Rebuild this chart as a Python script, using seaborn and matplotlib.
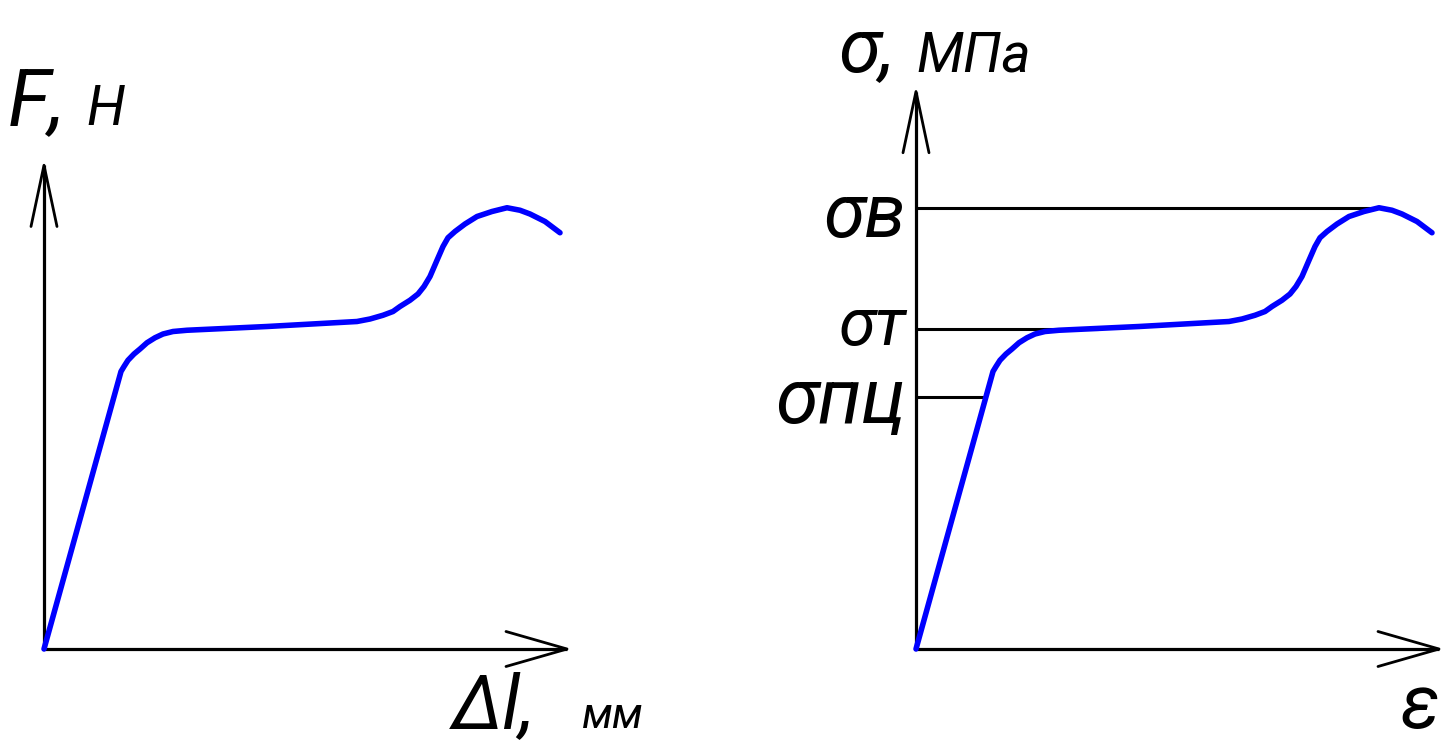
import numpy as np
import pandas as pd
import matplotlib
matplotlib.use('Agg')
import matplotlib.pyplot as plt
import seaborn as sns

# Tension diagram: relative strain (%) and stress (MPa)
strain = [0, 3.85, 4.0, 4.2, 4.5, 4.8, 5.15, 5.55, 5.95, 6.45, 7.15,
          11.15, 15.65, 16.3, 16.95, 17.45, 17.8, 18.3, 18.7, 19.0, 19.3,
          19.65, 19.95, 20.2, 20.55, 21.05, 21.65, 22.4, 23.15, 23.8, 24.3,
          25.05, 25.8]
stress = [0, 222, 226, 231, 236, 240, 245, 249, 252, 254, 255,
          258, 262, 264, 267, 270, 274, 279, 284, 290, 298,
          311, 322, 329, 334, 340, 346, 350, 353, 351, 348,
          342, 333]

# Characteristic stresses (right diagram)
level_names = ['σв', 'σт', 'σпц']
level_values = [353, 256, 202]
level_ends = [23.15, 9.1, 3.52]

# Axis extents
x_axis_len = 26.15
y_axis_len_left = 387
y_axis_len_right = 446

sns.set_style('white')
plt.rcParams['font.family'] = ['Roboto', 'DejaVu Sans']

curve = pd.DataFrame({'strain': strain, 'stress': stress})

W, H = 1449, 755
fig = plt.figure(figsize=(W / 100, H / 100), dpi=100)

# 1 strain unit = 20 px, 1 stress unit = 1.25 px
ax1 = fig.add_axes([0, 0, 700 / W, 1])
ax1.set_xlim(-2.2, 32.8)
ax1.set_ylim(-84.8, 519.2)
ax2 = fig.add_axes([720 / W, 0, 729 / W, 1])
ax2.set_xlim(-9.8, 26.65)
ax2.set_ylim(-84.8, 519.2)


def draw_axes(ax, ylen):
    ax.set_axis_off()
    lw = 2.3
    ax.plot([0, x_axis_len], [0, 0], color='black', lw=lw, solid_capstyle='butt')
    ax.plot([0, 0], [0, ylen], color='black', lw=lw, solid_capstyle='butt')
    # open arrowheads
    al_x, aw_x = 3.05, 0.65
    al_y, aw_y = 49, 14
    ax.plot([x_axis_len - al_x, x_axis_len, x_axis_len - al_x], [aw_y, 0, -aw_y],
            color='black', lw=2.0)
    ax.plot([-aw_x, 0, aw_x], [ylen - al_y, ylen, ylen - al_y], color='black', lw=2.0)


draw_axes(ax1, y_axis_len_left)
draw_axes(ax2, y_axis_len_right)

for name, val, end in zip(level_names, level_values, level_ends):
    ax2.plot([0, end], [val, val], color='black', lw=2.2)

for ax in (ax1, ax2):
    sns.lineplot(data=curve, x='strain', y='stress', sort=False, estimator=None,
                 color='#0000FF', lw=4.0, ax=ax, solid_capstyle='round',
                 solid_joinstyle='round')
    ax.set_axis_off()


def ftext(x, y, s, size, ha='left'):
    fig.text(x / W, 1 - y / H, s, fontsize=size, ha=ha, va='baseline',
             style='italic', fontweight='normal', color='black')


# left diagram labels
ftext(8, 126, 'F,', 57)
ftext(86, 125, 'Н', 40)
ftext(452, 728, 'Δl,', 54)
ftext(582, 728, 'мм', 31)

# right diagram labels
ftext(838, 72, 'σ,', 55)
ftext(916, 72, 'МПа', 40)
ftext(906, 237, level_names[0], 54, ha='right')
ftext(906, 345, level_names[1], 48, ha='right')
ftext(906, 423, level_names[2], 56, ha='right')
ftext(1440, 728, 'ε', 54, ha='right')

fig.savefig('out.png', dpi=100)
